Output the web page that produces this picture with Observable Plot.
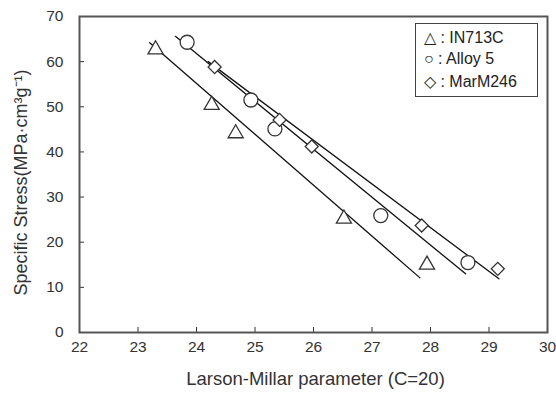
<!DOCTYPE html>
<html>
<head>
<meta charset="utf-8">
<script src="https://cdn.jsdelivr.net/npm/d3@7"></script>
<script src="https://cdn.jsdelivr.net/npm/@observablehq/plot@0.6"></script>
<style>
  html, body { margin: 0; padding: 0; background: #fff; }
  #wrap { position: relative; width: 556px; height: 394px; font-family: "Liberation Sans", Arial, sans-serif; }
  #legend { position: absolute; left: 415px; top: 23px; width: 121px; height: 72px; border: 1.5px solid #444; background: #fff; font-size: 16px; color: #222; }
  #legend div { position: absolute; left: 8px; white-space: nowrap; }
</style>
</head>
<body>
<div id="wrap"></div>
<script>
// ---- data ----
const seriesNames = ["IN713C", "Alloy 5", "MarM246"];
const legendSymbols = ["\u25B3", "\u25CB", "\u25C7"];

const in713cX = [23.30, 24.26, 24.67, 26.52, 27.94];
const in713cY = [62.7, 50.4, 44.1, 25.2, 15.0];

const alloy5X = [23.84, 24.93, 25.34, 27.15, 28.64];
const alloy5Y = [64.3, 51.5, 45.1, 25.9, 15.5];

const marm246X = [24.31, 25.42, 25.97, 27.85, 29.15];
const marm246Y = [58.8, 47.1, 41.2, 23.7, 14.1];

// fitted trend lines (end points)
const in713cFitX = [23.2, 27.82];
const in713cFitY = [64.2, 12.1];
const alloy5FitX = [23.64, 28.6];
const alloy5FitY = [65.6, 13.0];
const marm246FitX = [24.2, 29.17];
const marm246FitY = [60.0, 11.9];

const xTicks = [22, 23, 24, 25, 26, 27, 28, 29, 30];
const yTicks = [0, 10, 20, 30, 40, 50, 60, 70];
const xLabel = "Larson-Millar parameter (C=20)";
const yLabel = "Specific Stress(MPa\u00B7cm\u00B3g\u207B\u00B9)";

const toPts = (xs, ys) => xs.map((x, i) => ({x, y: ys[i]}));

const chart = Plot.plot({
  width: 556,
  height: 394,
  marginLeft: 79,
  marginRight: 9,
  marginTop: 16,
  marginBottom: 62,
  style: {fontFamily: "'Liberation Sans', Arial, sans-serif", fontSize: "15.5px", color: "#333", background: "#fff"},
  x: {domain: [22, 30]},
  y: {domain: [0, 70]},
  marks: [
    Plot.axisX({ticks: xTicks, tickSize: -5, tickPadding: 13, tickFormat: d => String(d), fontSize: 15.5, label: null, stroke: "#333"}),
    Plot.axisY({ticks: yTicks, tickSize: -5, tickPadding: 21, tickFormat: d => String(d), fontSize: 15.5, label: null, stroke: "#333"}),
    Plot.text([xLabel], {frameAnchor: "bottom", text: d => d, textAnchor: "middle", dx: 2, dy: 52, fontSize: 18.5, fill: "#333"}),
    Plot.text([yLabel], {frameAnchor: "left", text: d => d, textAnchor: "middle", lineAnchor: "middle", rotate: -90, dx: -58, dy: 8, fontSize: 18, fill: "#333"}),
    Plot.line(toPts(in713cFitX, in713cFitY), {x: "x", y: "y", stroke: "#111", strokeWidth: 1.3}),
    Plot.line(toPts(alloy5FitX, alloy5FitY), {x: "x", y: "y", stroke: "#111", strokeWidth: 1.3}),
    Plot.line(toPts(marm246FitX, marm246FitY), {x: "x", y: "y", stroke: "#111", strokeWidth: 1.3}),
    Plot.dot(toPts(in713cX, in713cY), {x: "x", y: "y", symbol: "triangle", r: 5.6, stroke: "#333", strokeWidth: 1.3, fill: "white"}),
    Plot.dot(toPts(alloy5X, alloy5Y), {x: "x", y: "y", symbol: "circle", r: 7, stroke: "#333", strokeWidth: 1.3, fill: "white"}),
    Plot.dot(toPts(marm246X, marm246Y), {x: "x", y: "y", symbol: "square", rotate: 45, r: 5.2, stroke: "#333", strokeWidth: 1.3, fill: "white"}),
    Plot.frame({stroke: "#555", strokeWidth: 2})
  ]
});

const wrap = document.getElementById("wrap");
wrap.appendChild(chart);

const legend = document.createElement("div");
legend.id = "legend";
seriesNames.forEach((name, i) => {
  const row = document.createElement("div");
  row.style.top = (4 + i * 22) + "px";
  row.textContent = legendSymbols[i] + " : " + name;
  legend.appendChild(row);
});
wrap.appendChild(legend);
</script>
</body>
</html>
